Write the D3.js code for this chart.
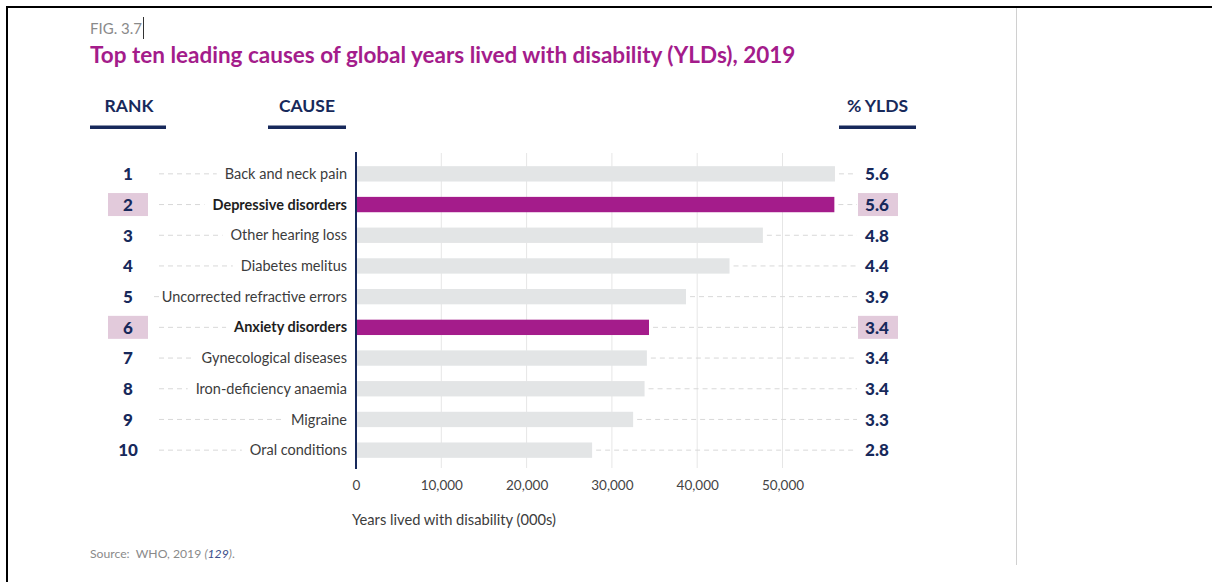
<!DOCTYPE html>
<html>
<head>
<meta charset="utf-8">
<script src="https://cdn.jsdelivr.net/npm/d3@7"></script>
<style>
  body { margin: 0; background: #fff; }
  svg { display: block; font-family: Lato, "Noto Sans", sans-serif; }
</style>
</head>
<body>
<div id="vis-container"></div>
<script>
// data
var ranks = [1, 2, 3, 4, 5, 6, 7, 8, 9, 10];
var causes = ["Back and neck pain", "Depressive disorders", "Other hearing loss", "Diabetes melitus",
      "Uncorrected refractive errors", "Anxiety disorders", "Gynecological diseases",
      "Iron-deficiency anaemia", "Migraine", "Oral conditions"];
var ylds = [56150, 56080, 47700, 43790, 38690, 34350, 34100, 33830, 32490, 27680];
var pctYlds = ["5.6", "5.6", "4.8", "4.4", "3.9", "3.4", "3.4", "3.4", "3.3", "2.8"];
var highlighted = [2, 6];
var xTicks = [0, 10000, 20000, 30000, 40000, 50000];

var navy = "#17295b";
var magenta = "#a41c8b";

var width = 1212, height = 582;

function drawChart() {
      var jsonArray = [];
      for (var i = 0; i < ranks.length; i++) {
            jsonArray.push({
                  "rank": ranks[i],
                  "cause": causes[i],
                  "ylds": ylds[i],
                  "pct": pctYlds[i],
                  "hl": highlighted.indexOf(ranks[i]) >= 0
            });
      }

      var svg = d3.select("#vis-container").append("svg")
            .attr("width", width)
            .attr("height", height);

      // page frame
      svg.append("line").attr("x1", 7).attr("x2", width).attr("y1", 7).attr("y2", 7)
            .style("stroke", "#000").style("stroke-width", 2);
      svg.append("line").attr("x1", 7).attr("x2", 7).attr("y1", 6).attr("y2", height)
            .style("stroke", "#000").style("stroke-width", 2);
      svg.append("line").attr("x1", 1016.5).attr("x2", 1016.5).attr("y1", 8).attr("y2", 565)
            .style("stroke", "#d0d0d0").style("stroke-width", 1);

      // heading
      svg.append("text").attr("x", 90).attr("y", 34)
            .style("font-size", "15px").style("fill", "#8a8a8a")
            .text("FIG. 3.7");
      svg.append("line").attr("x1", 143.5).attr("x2", 143.5).attr("y1", 17).attr("y2", 39)
            .style("stroke", "#333").style("stroke-width", 1);
      svg.append("text").attr("x", 90).attr("y", 63)
            .style("font-size", "22.5px").style("font-weight", "bold").style("fill", magenta)
            .text("Top ten leading causes of global years lived with disability (YLDs), 2019");

      // column headers
      var headers = [
            { label: "RANK", x1: 90, x2: 166 },
            { label: "CAUSE", x1: 268, x2: 346 },
            { label: "% YLDS", x1: 839, x2: 916 }
      ];
      svg.selectAll(".colhead").data(headers).enter().append("text")
            .attr("class", "colhead")
            .attr("x", d => (d.x1 + d.x2) / 2 + (d.label == "RANK" ? 1 : 0))
            .attr("y", 112)
            .attr("text-anchor", "middle")
            .style("font-size", "17.5px").style("font-weight", "bold").style("fill", navy)
            .text(d => d.label);
      svg.selectAll(".colrule").data(headers).enter().append("rect")
            .attr("class", "colrule")
            .attr("x", d => d.x1).attr("width", d => d.x2 - d.x1)
            .attr("y", 125.5).attr("height", 3.5)
            .style("fill", navy);

      // scales
      var x = d3.scaleLinear()
            .domain([0, 50000])
            .range([356, 782.5]);
      var y = d3.scaleBand()
            .domain(ranks)
            .range([158.5, 465.5])
            .paddingInner(0.5)
            .paddingOuter(0.25);
      var mid = d => y(d.rank) + y.bandwidth() / 2;

      // gridlines
      svg.append("g").selectAll("line").data(xTicks.slice(1)).enter().append("line")
            .attr("x1", d => x(d)).attr("x2", d => x(d))
            .attr("y1", 153).attr("y2", 468)
            .style("stroke", "#e6e6e6").style("stroke-width", 1);

      // rank highlight boxes
      var hlRows = jsonArray.filter(d => d.hl);
      svg.append("g").selectAll("rect").data(hlRows).enter().append("rect")
            .attr("x", 108).attr("width", 40)
            .attr("y", d => mid(d) - 11.5).attr("height", 23)
            .style("fill", "#e2cadb");
      svg.append("g").selectAll("rect").data(hlRows).enter().append("rect")
            .attr("x", 858).attr("width", 40)
            .attr("y", d => mid(d) - 11.5).attr("height", 23)
            .style("fill", "#e2cadb");

      // rank numbers
      svg.append("g").selectAll("text").data(jsonArray).enter().append("text")
            .attr("x", 128).attr("y", d => mid(d))
            .attr("dy", "0.37em").attr("text-anchor", "middle")
            .style("font-size", "17px").style("font-weight", "900").style("fill", navy)
            .text(d => d.rank);

      // cause labels
      var labels = svg.append("g").selectAll("text").data(jsonArray).enter().append("text")
            .attr("x", 347).attr("y", d => mid(d))
            .attr("dy", "0.35em").attr("text-anchor", "end")
            .style("font-size", "14.5px")
            .style("font-weight", d => d.hl ? "bold" : "normal")
            .style("fill", d => d.hl ? "#1e1e1e" : "#3c3c3c")
            .text(d => d.cause);

      // left dashed leaders
      labels.each(function(d) { d.labelWidth = this.getComputedTextLength(); });
      svg.append("g").selectAll("line").data(jsonArray).enter().append("line")
            .attr("x1", 159).attr("x2", d => 347 - d.labelWidth - 8)
            .attr("y1", d => mid(d)).attr("y2", d => mid(d))
            .style("stroke", "#d8d8d8").style("stroke-width", 1)
            .style("stroke-dasharray", "5,4");

      // right dashed leaders
      svg.append("g").selectAll("line").data(jsonArray).enter().append("line")
            .attr("x1", d => x(d.ylds) + 4).attr("x2", 857)
            .attr("y1", d => mid(d)).attr("y2", d => mid(d))
            .style("stroke", "#d8d8d8").style("stroke-width", 1)
            .style("stroke-dasharray", "5,4");

      // bars
      svg.append("g").selectAll("rect").data(jsonArray).enter().append("rect")
            .attr("x", x(0))
            .attr("y", d => y(d.rank))
            .attr("width", d => x(d.ylds) - x(0))
            .attr("height", y.bandwidth())
            .style("fill", d => d.hl ? magenta : "#e3e5e6");

      // percent values
      svg.append("g").selectAll("text").data(jsonArray).enter().append("text")
            .attr("x", 877).attr("y", d => mid(d))
            .attr("dy", "0.37em").attr("text-anchor", "middle")
            .style("font-size", "17px").style("font-weight", "900").style("fill", navy)
            .text(d => d.pct);

      // x axis
      var xAxis = svg.append("g")
            .attr("transform", "translate(0,468)")
            .call(d3.axisBottom(x).tickValues(xTicks).tickFormat(d3.format(",")).tickSize(0).tickPadding(12));
      xAxis.select(".domain").remove();
      xAxis.selectAll("text")
            .style("font-family", "Lato, sans-serif")
            .style("font-size", "13.5px").style("fill", "#444");

      // baseline
      svg.append("line").attr("x1", x(0)).attr("x2", x(0)).attr("y1", 152).attr("y2", 469)
            .style("stroke", navy).style("stroke-width", 2);

      svg.append("text").attr("x", 352).attr("y", 525)
            .style("font-size", "14.7px").style("fill", "#3c3c3c")
            .text("Years lived with disability (000s)");

      // source note
      var src = svg.append("text").attr("x", 90).attr("y", 558)
            .attr("xml:space", "preserve")
            .style("font-size", "12.2px").style("fill", "#8a8a8a");
      src.append("tspan").text("Source:  WHO, 2019 ");
      src.append("tspan").style("font-style", "italic").text("(");
      src.append("tspan").style("font-style", "italic").style("fill", "#3d4f8a").text("129");
      src.append("tspan").style("font-style", "italic").text(")");
      src.append("tspan").text(".");
}

drawChart();
</script>
</body>
</html>
